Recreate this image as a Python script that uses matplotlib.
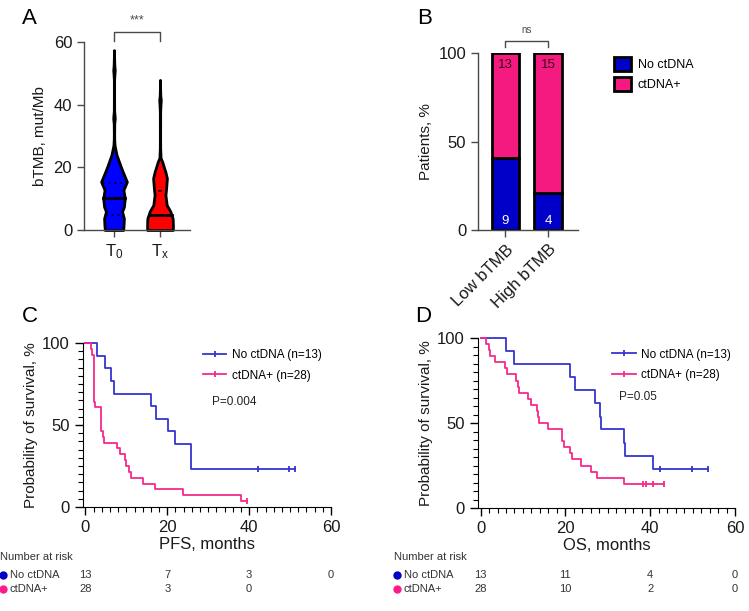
import numpy as np
import matplotlib
matplotlib.use("Agg")
import matplotlib.pyplot as plt
from matplotlib.patches import Patch
from matplotlib.lines import Line2D
import matplotlib.transforms as mtransforms

plt.rcParams['font.family'] = ['Liberation Sans', 'DejaVu Sans']
plt.rcParams['mathtext.default'] = 'regular'

#### data
# A: violin outlines (y level, half-width in category units)
t0_y = [0, 2, 3.7, 5.9, 7.4, 10.1, 12.8, 15.4, 18.6, 20.7, 24, 27, 29, 31, 34, 35.5, 36.5, 38, 42, 48, 50, 51, 52.5, 55, 57.4]
t0_w = [0.2, 0.21, 0.215, 0.175, 0.215, 0.235, 0.205, 0.28, 0.19, 0.135, 0.055, 0.013, 0.005, 0.004, 0.006, 0.017, 0.013, 0.004, 0.003, 0.003, 0.011, 0.017, 0.008, 0.003, 0.0]
tx_y = [0, 2, 3.7, 5.9, 8, 11.2, 13.3, 16.5, 18.5, 19.7, 21.8, 23, 26, 30, 37.8, 40, 41.5, 43, 45, 47.9]
tx_w = [0.28, 0.28, 0.275, 0.225, 0.145, 0.118, 0.133, 0.15, 0.118, 0.092, 0.048, 0.013, 0.004, 0.003, 0.004, 0.011, 0.017, 0.006, 0.003, 0.0]
t0_median, t0_q1, t0_q3 = 10.1, 4.8, 15.1
tx_median, tx_q3 = 4.8, 12.6

# B: patients per group
b_groups = ['Low bTMB', 'High bTMB']
b_no_ctdna = [9, 4]
b_ctdna = [13, 15]

# C: PFS Kaplan-Meier steps
pfs_no_t = [0, 2.7, 4.7, 6.3, 7.0, 16.1, 17.2, 20.2, 21.8, 25.7]
pfs_no_s = [100, 92.3, 84.6, 76.9, 69.2, 61.5, 53.8, 46.2, 38.5, 23.1]
pfs_no_cens = [42.1, 49.8, 51.3]
pfs_pos_t = [0, 1.3, 1.6, 2.2, 2.4, 3.9, 4.3, 4.6, 7.6, 8.4, 9.6, 10.0, 10.6, 11.1, 14.1, 16.9, 23.8, 37.9]
pfs_pos_s = [100, 96.4, 92.9, 64.3, 60.7, 46.4, 42.9, 39.3, 35.7, 32.1, 28.6, 25.0, 21.4, 17.9, 14.3, 10.7, 7.1, 3.6]
pfs_pos_cens = [39.5]
pfs_risk_no = [13, 7, 3, 0]
pfs_risk_pos = [28, 3, 0]

# D: OS Kaplan-Meier steps
os_no_t = [0, 6.0, 7.8, 21.2, 22.2, 27.1, 28.1, 28.4, 33.9, 34.1, 40.7]
os_no_s = [100, 92.3, 84.6, 76.9, 69.2, 61.5, 53.8, 46.2, 38.5, 30.8, 23.1]
os_no_cens = [42.2, 49.8, 53.7]
os_pos_t = [0, 1.3, 1.9, 2.3, 3.5, 5.8, 6.2, 8.4, 8.8, 9.1, 11.2, 11.8, 13.3, 13.6, 13.8, 16.0, 19.2, 19.6, 21.2, 21.6, 23.8, 26.0, 27.4, 33.9]
os_pos_s = [100, 96.4, 92.9, 89.3, 85.7, 82.1, 78.6, 75.0, 71.4, 67.9, 64.3, 60.7, 57.1, 53.6, 50.0, 46.4, 39.3, 35.7, 32.1, 28.6, 25.0, 21.4, 17.9, 14.3]
os_pos_cens = [38.4, 39.1, 40.7, 43.2]
os_risk_no = [13, 11, 4, 0]
os_risk_pos = [28, 10, 2, 0]

risk_ticks = [0, 20, 40, 60]

BLUE = '#0000c8'
PINK = '#f41a80'
KM_BLUE = '#3535d0'
KM_PINK = '#f72a8c'
GREY = '#4a4a4a'
TXT = '#1a1a1a'

W, H = 749, 611
fig = plt.figure(figsize=(W / 100, H / 100), dpi=100)


def box(l, r, t, b):
    # pixel box -> figure fraction
    return [l / W, (H - b) / H, (r - l) / W, (b - t) / H]


def style_gray(ax):
    for s in ['top', 'right']:
        ax.spines[s].set_visible(False)
    for s in ['left', 'bottom']:
        ax.spines[s].set_color(GREY)
        ax.spines[s].set_linewidth(1.0)
    ax.tick_params(colors=GREY, labelcolor=TXT, labelsize=12, length=5, width=1)


## ---------------- A: violins
axA = fig.add_axes(box(84, 190, 42, 230))
style_gray(axA)
for pos, yy, ww, col in [(0, t0_y, t0_w, '#0000ff'), (1, tx_y, tx_w, '#ff0000')]:
    yy = np.array(yy)
    ww = np.array(ww)
    axA.fill_betweenx(yy, pos - ww, pos + ww, facecolor=col, edgecolor='black', lw=2.0, clip_on=False, zorder=2)
for pos, yy, ww, med in [(0, t0_y, t0_w, t0_median), (1, tx_y, tx_w, tx_median)]:
    hw = np.interp(med, yy, ww)
    axA.plot([pos - hw, pos + hw], [med, med], color='black', lw=2.0, zorder=3)
for q in [t0_q1, t0_q3]:
    hw = np.interp(q, t0_y, t0_w) * 0.85
    axA.plot([-hw, hw], [q, q], color='black', lw=1.2, ls=(0, (1, 2.5)), zorder=3)
axA.plot([1 - 0.015, 1 + 0.015], [tx_q3, tx_q3], color='black', lw=1.2, zorder=3)
axA.set_xlim(-0.652, 1.652)
axA.set_ylim(0, 60)
axA.set_yticks([0, 20, 40, 60])
axA.set_xticks([0, 1])
axA.set_xticklabels([r'T$_\mathregular{0}$', r'T$_\mathregular{x}$'], fontsize=12)
axA.set_ylabel('bTMB, mut/Mb', fontsize=11, labelpad=5, color=TXT)
# significance bracket
axA.plot([0, 0, 1, 1], [60.3, 63.3, 63.3, 60.3], color=GREY, lw=1, clip_on=False)
axA.text(0.5, 65.0, '***', ha='center', va='bottom', fontsize=9, color=GREY)

## ---------------- B: stacked bars
axB = fig.add_axes(box(478, 578, 53, 230))
style_gray(axB)
x = np.arange(len(b_groups))
tot = np.array(b_no_ctdna) + np.array(b_ctdna)
p_no = np.array(b_no_ctdna) / tot * 100
p_pos = np.array(b_ctdna) / tot * 100
axB.bar(x, p_no, width=0.64, color=BLUE, edgecolor='black', lw=2, zorder=2)
axB.bar(x, p_pos, bottom=p_no, width=0.64, color=PINK, edgecolor='black', lw=2, zorder=2)
for i in range(len(x)):
    axB.text(x[i], 5, str(b_no_ctdna[i]), ha='center', va='center', color='white', fontsize=9.5)
    axB.text(x[i], 93.5, str(b_ctdna[i]), ha='center', va='center', color='#3a0a1a', fontsize=9.5)
axB.set_xlim(-0.647, 1.706)
axB.set_ylim(0, 100)
axB.set_yticks([0, 50, 100])
axB.set_xticks(x)
axB.set_xticklabels(b_groups, rotation=45, ha='right', rotation_mode='anchor', fontsize=12)
axB.set_ylabel('Patients, %', fontsize=11, labelpad=4, color=TXT)
axB.plot([0, 0, 1, 1], [103.5, 107, 107, 103.5], color=GREY, lw=1, clip_on=False)
axB.text(0.5, 110, 'ns', ha='center', va='bottom', fontsize=7, color=GREY)
axB.legend(handles=[Patch(facecolor=BLUE, edgecolor='black', lw=2, label='No ctDNA'),
                    Patch(facecolor=PINK, edgecolor='black', lw=2, label='ctDNA+')],
           loc='upper left', bbox_to_anchor=(1.25, 1.04), frameon=False, fontsize=9,
           handlelength=1.3, handleheight=1.3, handletextpad=0.6, labelspacing=0.5)


## ---------------- C/D: Kaplan-Meier
def km_panel(rect, no_t, no_s, no_c, pos_t, pos_s, pos_c, xlabel, pval, pxy, leg_anchor,
             risk_no, risk_pos, risk_x):
    ax = fig.add_axes(rect)
    for s in ['top', 'right']:
        ax.spines[s].set_visible(False)
    for t, s, c, col in [(no_t, no_s, no_c, KM_BLUE), (pos_t, pos_s, pos_c, KM_PINK)]:
        tt = list(t) + [max(c)]
        ss = list(s) + [s[-1]]
        ax.step(tt, ss, where='post', color=col, lw=1.3, clip_on=False, zorder=3)
        ax.plot(c, [s[-1]] * len(c), ls='none', marker='|', ms=5, mew=1.3, color=col,
                clip_on=False, zorder=3)
    ax.set_xlim(-0.6, 60)
    ax.set_ylim(0, 100)
    ax.set_xticks([0, 20, 40, 60])
    ax.set_xticks(np.arange(0, 61, 2), minor=True)
    ax.set_yticks([0, 50, 100])
    ax.set_yticks(np.arange(0, 101, 5), minor=True)
    ax.tick_params(which='major', length=6, width=1, labelsize=12, labelcolor=TXT)
    ax.tick_params(which='minor', length=3.5, width=0.8)
    ax.set_xlabel(xlabel, fontsize=12, labelpad=1, color=TXT)
    ax.set_ylabel('Probability of survival, %', fontsize=11, labelpad=3, color=TXT)
    handles = [Line2D([], [], color=KM_BLUE, lw=1.3, marker='|', ms=4, mew=1.3, label='No ctDNA (n=13)'),
               Line2D([], [], color=KM_PINK, lw=1.3, marker='|', ms=4, mew=1.3, label='ctDNA+ (n=28)')]
    ax.legend(handles=handles, loc='upper left', bbox_to_anchor=leg_anchor, frameon=False,
              fontsize=8.5, handlelength=2.0, handletextpad=0.5, labelspacing=0.75)
    ax.text(pxy[0], pxy[1], pval, transform=ax.transAxes, fontsize=8.5, color='#222222', va='center')

    trans = mtransforms.blended_transform_factory(ax.transData, fig.transFigure)
    fig.text(risk_x, (H - 557) / H, 'Number at risk', fontsize=8, color='#333333', va='center')
    for row, (lab, vals, col) in enumerate([('No ctDNA', risk_no, BLUE), ('ctDNA+', risk_pos, '#ff1a8c')]):
        yy = (H - 575 - 14 * row) / H
        axr = ax.plot([risk_x * W + 3], [H - 575 - 14 * row], 'o', ms=5, color=col,
                      transform=None, clip_on=False)
        fig.text(risk_x + 10 / W, yy, lab, fontsize=8, color='#333333', va='center')
        for xv, v in zip(risk_ticks, vals):
            ax.text(xv, yy, str(v), transform=trans, ha='center', va='center', fontsize=8, color='#333333')
    return ax


km_panel(box(83, 331, 343, 507), pfs_no_t, pfs_no_s, pfs_no_cens, pfs_pos_t, pfs_pos_s, pfs_pos_cens,
         'PFS, months', 'P=0.004', (0.52, 0.64), (0.44, 1.03), pfs_risk_no, pfs_risk_pos, 0 / W)
km_panel(box(478, 735, 338, 508), os_no_t, os_no_s, os_no_cens, os_pos_t, os_pos_s, os_pos_cens,
         'OS, months', 'P=0.05', (0.55, 0.65), (0.48, 1.0), os_risk_no, os_risk_pos, 394 / W)

# panel letters
for lab, px, py in [('A', 22, 19), ('B', 417, 19), ('C', 22, 316), ('D', 415, 316)]:
    fig.text(px / W, (H - py) / H, lab, fontsize=16, va='center', ha='left')

fig.savefig('out.png', dpi=100)
